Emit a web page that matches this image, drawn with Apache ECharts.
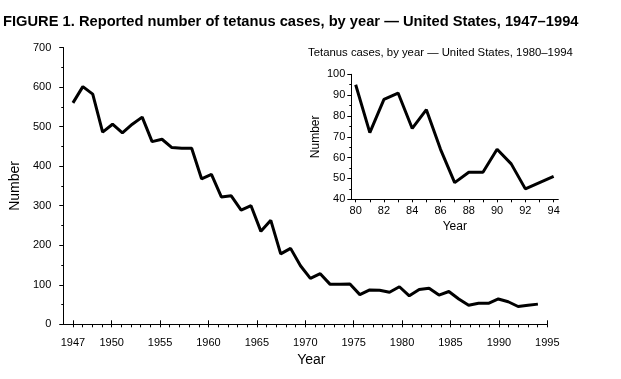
<!DOCTYPE html>
<html><head><meta charset="utf-8">
<script src="https://cdn.jsdelivr.net/npm/echarts@6/dist/echarts.min.js"></script>
<style>html,body{margin:0;padding:0;background:#fff}#c{width:621px;height:379px}</style>
</head><body><div id="c"></div>
<script>
// Main series: reported tetanus cases, 1947-1994
const years = [1947,1948,1949,1950,1951,1952,1953,1954,1955,1956,1957,1958,1959,1960,1961,1962,1963,1964,1965,1966,1967,1968,1969,1970,1971,1972,1973,1974,1975,1976,1977,1978,1979,1980,1981,1982,1983,1984,1985,1986,1987,1988,1989,1990,1991,1992,1993,1994];
const cases = [560,601,582,486,506,484,506,524,462,468,447,445,445,368,379,322,325,289,300,235,263,178,192,148,116,128,101,101,102,75,87,86,81,95,72,88,91,74,83,64,48,53,53,64,57,45,48,51];
// Inset series: 1980-1994
const insetYears = [1980,1981,1982,1983,1984,1985,1986,1987,1988,1989,1990,1991,1992,1993,1994];
const insetCases = [95,72,88,91,74,83,64,48,53,53,64,57,45,48,51];
// Tick labels
const mainTickValues = [1946,1950,1955,1960,1965,1970,1975,1980,1985,1990,1995];
const mainTickLabels = ['1947','1950','1955','1960','1965','1970','1975','1980','1985','1990','1995'];
const mainMinorTicks = [];
for (let y = 1946; y <= 1995; y++) mainMinorTicks.push(y);
const insetTickValues = [1980,1982,1984,1986,1988,1990,1992,1994];
const insetTickLabels = ['80','82','84','86','88','90','92','94'];

const FONT = 'Liberation Sans, Arial, sans-serif';
const black = '#000';
const chart = echarts.init(document.getElementById('c'), null, {renderer: 'canvas'});
chart.setOption({
  animation: false,
  backgroundColor: '#fff',
  textStyle: {fontFamily: FONT, color: black},
  title: [
    {text: 'FIGURE 1. Reported number of tetanus cases, by year \u2014 United States, 1947\u20131994',
     left: 3, top: 14, padding: 0,
     textStyle: {fontFamily: FONT, fontSize: 14.7, fontWeight: 'bold', color: black}},
    {text: 'Tetanus cases, by year \u2014 United States, 1980\u20131994',
     left: 308, top: 47, padding: 0,
     textStyle: {fontFamily: FONT, fontSize: 11.35, fontWeight: 'normal', color: black}}
  ],
  grid: [
    {left: 61, top: 47.5, width: 486.3, height: 276.8, containLabel: false},
    {left: 351.3, top: 74.3, width: 207, height: 125, containLabel: false}
  ],
  xAxis: [
    {gridIndex: 0, type: 'value', min: 1945, max: 1995, position: 'bottom',
     axisLine: {show: true, lineStyle: {color: black, width: 1}},
     axisTick: {show: true, length: 3, customValues: mainMinorTicks, lineStyle: {color: black}},
     axisLabel: {customValues: mainTickValues, fontSize: 11, color: black, margin: 13, fontFamily: FONT,
       formatter: v => mainTickLabels[mainTickValues.indexOf(v)]},
     splitLine: {show: false},
     name: 'Year', nameLocation: 'middle', nameGap: 27,
     nameTextStyle: {fontSize: 14, color: black, fontFamily: FONT, padding: [0, 0, 0, 12]}},
    {gridIndex: 0, type: 'value', min: 1945, max: 1995, position: 'bottom',
     axisLine: {show: false},
     axisTick: {show: true, inside: true, length: 4, customValues: mainTickValues, lineStyle: {color: black}},
     axisLabel: {show: false}, splitLine: {show: false}},
    {gridIndex: 0, type: 'value', min: 1946.02, max: 1994.95, show: false, position: 'bottom'},
    {gridIndex: 1, type: 'value', min: 1979.69, max: 1994.33, position: 'bottom',
     axisLine: {show: true, lineStyle: {color: black, width: 1}},
     axisTick: {show: true, length: 3, customValues: insetYears, lineStyle: {color: black}},
     axisLabel: {customValues: insetTickValues, fontSize: 11, color: black, margin: 6, fontFamily: FONT,
       formatter: v => insetTickLabels[insetTickValues.indexOf(v)]},
     splitLine: {show: false},
     name: 'Year', nameLocation: 'middle', nameGap: 21,
     nameTextStyle: {fontSize: 12, color: black, fontFamily: FONT}}
  ],
  yAxis: [
    {gridIndex: 0, type: 'value', min: 0, max: 700, interval: 100,
     axisLine: {show: true, lineStyle: {color: black, width: 1}},
     axisTick: {show: true, length: 4, lineStyle: {color: black}},
     minorTick: {show: true, splitNumber: 2, length: 2, lineStyle: {color: black}},
     axisLabel: {fontSize: 11, color: black, margin: 12, fontFamily: FONT},
     splitLine: {show: false}, minorSplitLine: {show: false},
     name: 'Number', nameLocation: 'middle', nameGap: 33, nameRotate: 90,
     nameTextStyle: {fontSize: 14, color: black, fontFamily: FONT}},
    {gridIndex: 1, type: 'value', min: 40, max: 100, interval: 10,
     axisLine: {show: true, lineStyle: {color: black, width: 1}},
     axisTick: {show: true, length: 4, lineStyle: {color: black}},
     minorTick: {show: true, splitNumber: 2, length: 2, lineStyle: {color: black}},
     axisLabel: {fontSize: 11, color: black, margin: 6, fontFamily: FONT},
     splitLine: {show: false}, minorSplitLine: {show: false},
     name: 'Number', nameLocation: 'middle', nameGap: 30, nameRotate: 90,
     nameTextStyle: {fontSize: 12, color: black, fontFamily: FONT}}
  ],
  series: [
    {type: 'line', xAxisIndex: 2, yAxisIndex: 0, showSymbol: false, symbol: 'none',
     data: years.map((y, i) => [y, cases[i]]),
     lineStyle: {color: black, width: 3}, silent: true},
    {type: 'line', xAxisIndex: 3, yAxisIndex: 1, showSymbol: false, symbol: 'none',
     data: insetYears.map((y, i) => [y, insetCases[i]]),
     lineStyle: {color: black, width: 3}, silent: true}
  ]
});
</script>
</body></html>
